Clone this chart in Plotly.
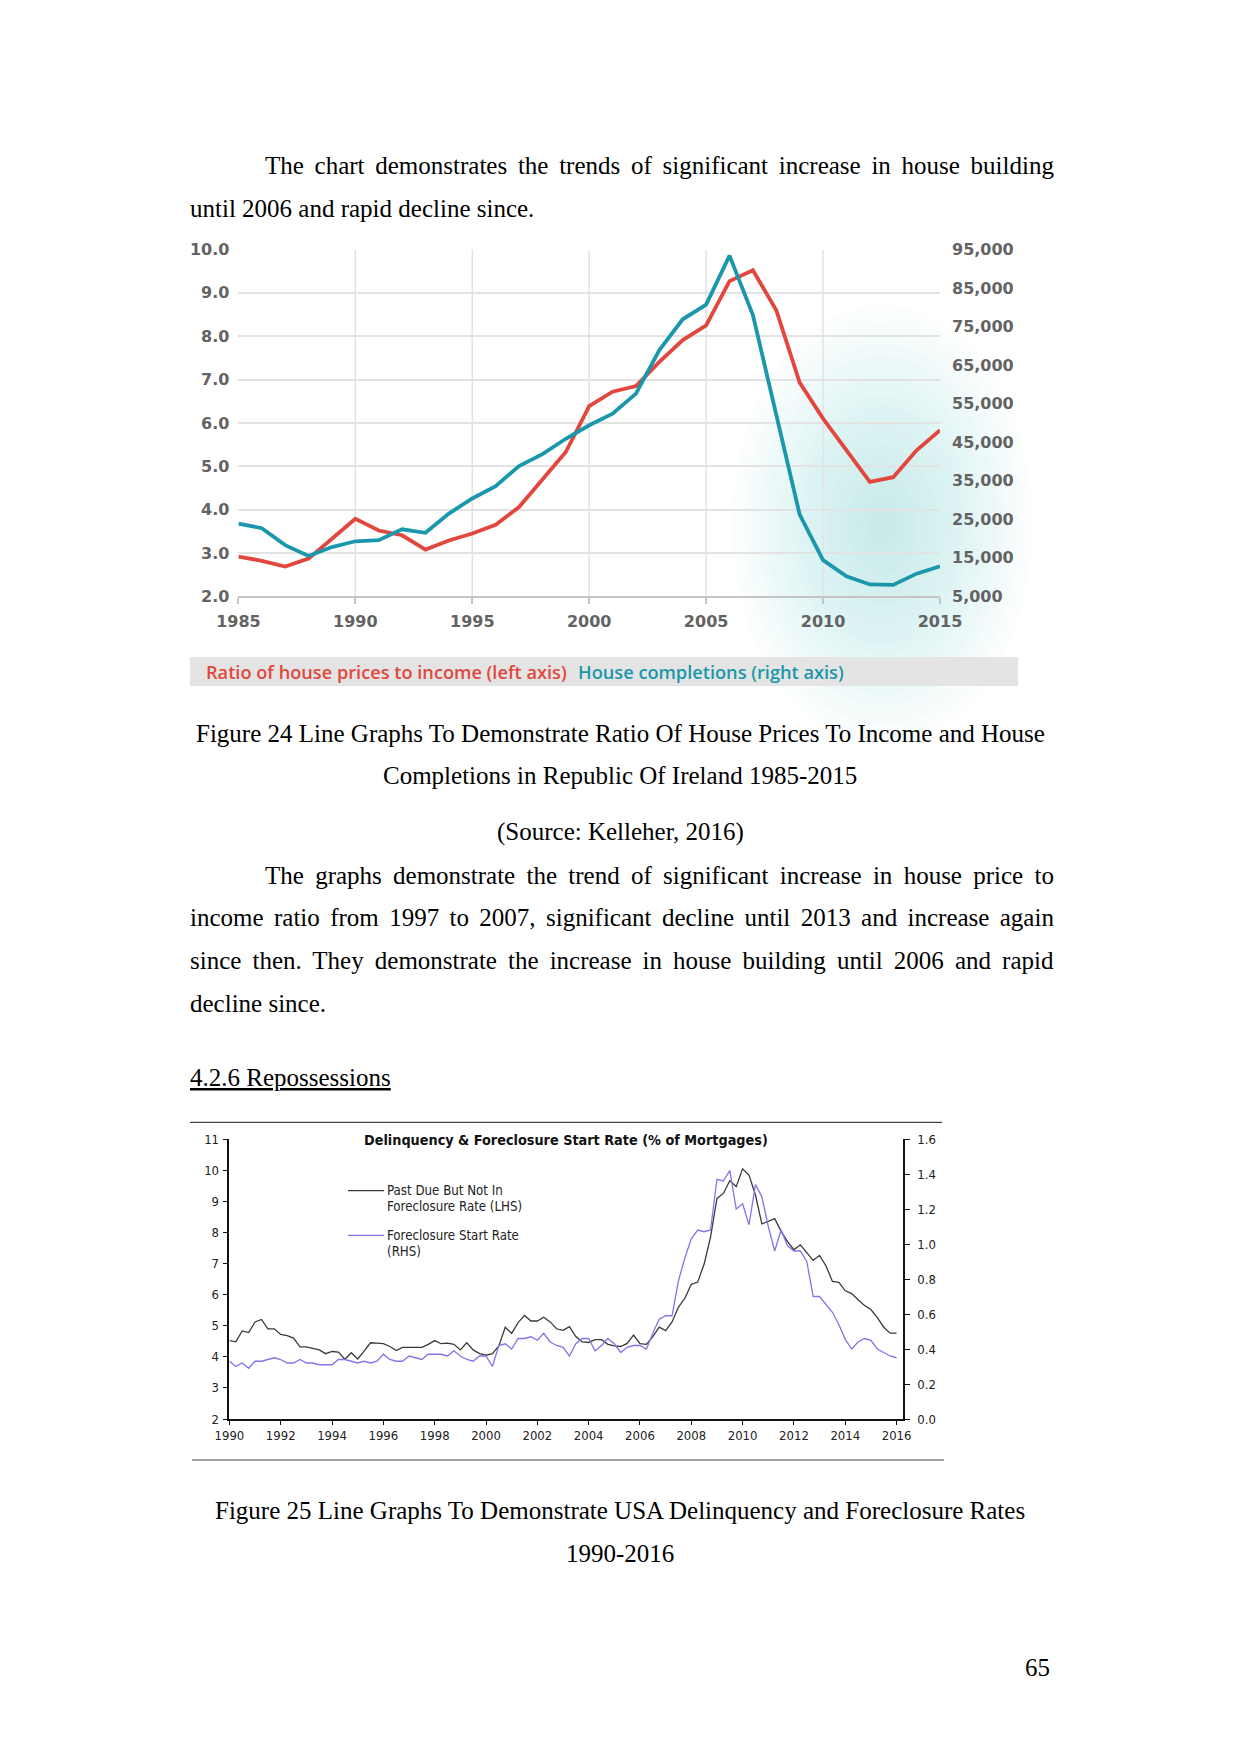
import plotly.graph_objects as go

W, H = 1241, 1754
OFF = 8  # the page body margin that shifts the whole figure


def fx(x):
    return (x - OFF) / W


def fy(y):
    return 1 - (y - OFF) / H


# ---------------- Chart 1 data (Ireland) ----------------
years1 = list(range(1985, 2016))
ratio = [2.92, 2.82, 2.69, 2.87, 3.33, 3.79, 3.52, 3.41, 3.08, 3.29,
         3.45, 3.65, 4.06, 4.68, 5.33, 6.39, 6.72, 6.85, 7.41, 7.91,
         8.25, 9.27, 9.52, 8.60, 6.93, 6.10, 5.37, 4.64, 4.75, 5.37, 5.83]
completions = [23900, 22700, 18300, 15500, 17800, 19300, 19600, 22400, 21500, 26500,
               30400, 33600, 38800, 41900, 45900, 49400, 52400, 57600, 68900, 76900,
               80700, 93400, 78000, 52000, 26200, 14400, 10200, 8100, 8000, 10900, 12800]
x_ticks1 = [1985, 1990, 1995, 2000, 2005, 2010, 2015]
grid_years1 = [1990, 1995, 2000, 2005, 2010]
left_ticks1 = [2, 3, 4, 5, 6, 7, 8, 9, 10]
right_ticks1 = [5000, 15000, 25000, 35000, 45000, 55000, 65000, 75000, 85000, 95000]

# ---------------- Chart 2 data (USA, quarterly from 1990Q1) ----------------
q_start = 1990
delinquency = [
    4.52, 4.48, 4.83, 4.78,   # 1990
    5.12, 5.20, 4.90, 4.90,   # 1991
    4.72, 4.68, 4.60, 4.32,   # 1992
    4.32, 4.28, 4.22, 4.10,   # 1993
    4.17, 4.15, 3.92, 4.13,   # 1994
    3.93, 4.18, 4.45, 4.44,   # 1995
    4.42, 4.33, 4.20, 4.30,   # 1996
    4.30, 4.28, 4.30, 4.40,   # 1997
    4.52, 4.42, 4.44, 4.40,   # 1998
    4.22, 4.45, 4.22, 4.10,   # 1999
    4.05, 4.10, 4.35, 4.95,   # 2000
    4.75, 5.10, 5.33, 5.15,   # 2001
    5.15, 5.27, 5.12, 4.90,   # 2002
    4.85, 4.97, 4.65, 4.48,   # 2003
    4.46, 4.55, 4.55, 4.40,   # 2004
    4.35, 4.33, 4.43, 4.70,   # 2005
    4.42, 4.40, 4.65, 4.95,   # 2006
    4.84, 5.12, 5.60, 5.88,   # 2007
    6.33, 6.40, 6.98, 7.85,   # 2008
    9.09, 9.25, 9.66, 9.47,   # 2009
    10.04, 9.84, 9.20, 8.27,  # 2010
    8.35, 8.44, 8.03, 7.70,   # 2011
    7.44, 7.60, 7.35, 7.10,   # 2012
    7.26, 6.92, 6.42, 6.39,   # 2013
    6.12, 6.03, 5.83, 5.65,   # 2014
    5.52, 5.26, 4.95, 4.76,   # 2015
    4.76,                     # 2016
]
foreclosure = [
    0.33, 0.30, 0.32, 0.29,   # 1990
    0.33, 0.33, 0.34, 0.35,   # 1991
    0.34, 0.32, 0.32, 0.34,   # 1992
    0.32, 0.32, 0.31, 0.31,   # 1993
    0.31, 0.34, 0.34, 0.33,   # 1994
    0.32, 0.33, 0.32, 0.33,   # 1995
    0.37, 0.34, 0.33, 0.33,   # 1996
    0.36, 0.35, 0.34, 0.37,   # 1997
    0.37, 0.37, 0.36, 0.39,   # 1998
    0.36, 0.34, 0.33, 0.36,   # 1999
    0.36, 0.30, 0.42, 0.43,   # 2000
    0.40, 0.46, 0.46, 0.47,   # 2001
    0.45, 0.49, 0.44, 0.42,   # 2002
    0.41, 0.36, 0.43, 0.46,   # 2003
    0.46, 0.39, 0.42, 0.46,   # 2004
    0.43, 0.38, 0.41, 0.42,   # 2005
    0.42, 0.40, 0.49, 0.57,   # 2006
    0.59, 0.59, 0.79, 0.92,   # 2007
    1.03, 1.08, 1.07, 1.08,   # 2008
    1.37, 1.36, 1.42, 1.20,   # 2009
    1.23, 1.11, 1.34, 1.27,   # 2010
    1.10, 0.96, 1.08, 0.99,   # 2011
    0.96, 0.96, 0.90, 0.70,   # 2012
    0.70, 0.655, 0.61, 0.54,  # 2013
    0.455, 0.40, 0.44, 0.46,  # 2014
    0.45, 0.40, 0.38, 0.36,   # 2015
    0.35,                     # 2016
]
quarters = [q_start + i / 4 for i in range(len(delinquency))]
x_ticks2 = list(range(1990, 2017, 2))
left_ticks2 = list(range(2, 12))
right_ticks2 = [0.0, 0.2, 0.4, 0.6, 0.8, 1.0, 1.2, 1.4, 1.6]

# ---------------- Styles ----------------
RED = "#e2473d"
TEAL = "#1a97ab"
DARK = "#3a3a3a"
VIOLET = "#7e76ea"
SERIF = "Liberation Serif, Times New Roman, serif"
ROUND = "DejaVu Sans, sans-serif"
NARROW = "Liberation Sans Narrow, DejaVu Sans Condensed, Arial Narrow, sans-serif"
GREY_TXT = "#636363"

# Times metrics (per 1000 em) for justified body text
TIMES = {' ': 250, ',': 250, '.': 250, '-': 333, '(': 333, ')': 333,
         'A': 722, 'B': 667, 'C': 667, 'D': 722, 'E': 611, 'F': 556, 'G': 722,
         'H': 722, 'I': 333, 'J': 389, 'K': 722, 'L': 611, 'M': 889, 'N': 722,
         'O': 722, 'P': 556, 'Q': 722, 'R': 667, 'S': 556, 'T': 611, 'U': 722,
         'V': 722, 'W': 944, 'X': 722, 'Y': 722, 'Z': 611,
         'a': 444, 'b': 500, 'c': 444, 'd': 500, 'e': 444, 'f': 333, 'g': 500,
         'h': 500, 'i': 278, 'j': 278, 'k': 500, 'l': 278, 'm': 778, 'n': 500,
         'o': 500, 'p': 500, 'q': 500, 'r': 333, 's': 389, 't': 278, 'u': 500,
         'v': 500, 'w': 722, 'x': 500, 'y': 500, 'z': 444}
BODY = 25

annotations = []


def text(t, x, y, xanchor="left", size=BODY, family=SERIF, color="black", weight=None):
    f = dict(family=family, size=size, color=color)
    if weight:
        f["weight"] = weight
    annotations.append(dict(text=t, x=fx(x), y=fy(y), xref="paper", yref="paper",
                            xanchor=xanchor, yanchor="middle", showarrow=False,
                            font=f, align="left"))


def justified(line, x_left, x_right, y):
    natural = sum(TIMES.get(c, 500) for c in line) / 1000 * BODY
    n = line.count(" ")
    ws = (x_right - x_left - natural) / n if n else 0
    text('<span style="word-spacing:%.2fpx">%s</span>' % (ws, line), x_left, y)


LM, RM, IND = 188, 1052, 263
CENTER = (LM + RM) / 2

justified("The chart demonstrates the trends of significant increase in house building", IND, RM, 165.5)
text("until 2006 and rapid decline since.", LM, 208)
text("Figure 24 Line Graphs To Demonstrate Ratio Of House Prices To Income and House", CENTER, 733, "center")
text("Completions in Republic Of Ireland 1985-2015", CENTER, 775.5, "center")
text("(Source: Kelleher, 2016)", CENTER, 831.5, "center")
justified("The graphs demonstrate the trend of significant increase in house price to", IND, RM, 875)
justified("income ratio from 1997 to 2007, significant decline until 2013 and increase again", LM, RM, 917.6)
justified("since then. They demonstrate the increase in house building until 2006 and rapid", LM, RM, 961)
text("decline since.", LM, 1003.7)
text("<u>4.2.6 Repossessions</u>", LM, 1077.6)
text("Figure 25 Line Graphs To Demonstrate USA Delinquency and Foreclosure Rates", CENTER, 1510.6, "center")
text("1990-2016", CENTER, 1553, "center")
text("65", RM, 1667, "right")

# chart 1 legend bar text
text("Ratio of house prices to income (left axis)", 204, 671.5, size=18.2, family="Open Sans, sans-serif",
     color=RED, weight=600)
text("House completions (right axis)", 576, 671.5, size=18.2, family="Open Sans, sans-serif",
     color=TEAL, weight=600)

# chart 2 title and legend
LEG2 = 13.2
text("<b>Delinquency & Foreclosure Start Rate (% of Mortgages)</b>", 566, 1140, "center", size=14.3,
     family=NARROW, color="#111")
text("Past Due But Not In", 385, 1190.6, size=LEG2, family=NARROW, color="#222")
text("Foreclosure Rate (LHS)", 385, 1206.3, size=LEG2, family=NARROW, color="#222")
text("Foreclosure Start Rate", 385, 1235.4, size=LEG2, family=NARROW, color="#222")
text("(RHS)", 385, 1251, size=LEG2, family=NARROW, color="#222")

shapes = []
# soft glow behind the right part of chart 1
NG = 22
for i in range(NG):
    k = 1 - i / NG
    rx, ry = 150 * k, 220 * k
    cx, cy = 882, 525
    shapes.append(dict(type="circle", xref="paper", yref="paper",
                       x0=fx(cx - rx), x1=fx(cx + rx), y0=fy(cy + ry), y1=fy(cy - ry),
                       fillcolor="#96dbe7", opacity=0.032, line=dict(width=0), layer="below"))
# legend bar
shapes.append(dict(type="rect", xref="paper", yref="paper", x0=fx(190), x1=fx(1018),
                   y0=fy(686), y1=fy(657), fillcolor="#e4e4e4", line=dict(width=0), layer="below"))
# vertical gridlines chart 1
for yr in grid_years1:
    shapes.append(dict(type="line", xref="x", yref="y", x0=yr, x1=yr, y0=left_ticks1[0], y1=left_ticks1[-1],
                       line=dict(color="#e3e3e3", width=1.5), layer="below"))
# chart 2 horizontal rules
shapes.append(dict(type="line", xref="paper", yref="paper", x0=fx(190), x1=fx(942), y0=fy(1122.4), y1=fy(1122.4),
                   line=dict(color="#444", width=1.2)))
shapes.append(dict(type="line", xref="paper", yref="paper", x0=fx(192), x1=fx(944), y0=fy(1460), y1=fy(1460),
                   line=dict(color="#444", width=1.2)))
# chart 2 legend lines
shapes.append(dict(type="line", xref="paper", yref="paper", x0=fx(348), x1=fx(384), y0=fy(1190.6), y1=fy(1190.6),
                   line=dict(color=DARK, width=1.3)))
shapes.append(dict(type="line", xref="paper", yref="paper", x0=fx(348), x1=fx(384), y0=fy(1235.4), y1=fy(1235.4),
                   line=dict(color=VIOLET, width=1.3)))

fig = go.Figure()
fig.add_trace(go.Scatter(x=years1, y=ratio, mode="lines", line=dict(color=RED, width=3.8),
                         xaxis="x", yaxis="y", showlegend=False, hoverinfo="skip"))
fig.add_trace(go.Scatter(x=years1, y=completions, mode="lines", line=dict(color=TEAL, width=3.8),
                         xaxis="x", yaxis="y2", showlegend=False, hoverinfo="skip"))
fig.add_trace(go.Scatter(x=quarters, y=delinquency, mode="lines", line=dict(color=DARK, width=1.3),
                         xaxis="x2", yaxis="y3", showlegend=False, hoverinfo="skip"))
fig.add_trace(go.Scatter(x=quarters, y=foreclosure, mode="lines", line=dict(color=VIOLET, width=1.3),
                         xaxis="x2", yaxis="y4", showlegend=False, hoverinfo="skip"))

tf1 = dict(family=ROUND, size=16, color=GREY_TXT, weight="bold")
tf2 = dict(family=NARROW, size=13, color="#222")

fig.update_layout(
    width=W, height=H, margin=dict(l=0, r=0, t=0, b=0, pad=0, autoexpand=False),
    paper_bgcolor="white", plot_bgcolor="rgba(0,0,0,0)",
    showlegend=False,
    xaxis=dict(domain=[fx(238.4), fx(940)], range=[x_ticks1[0], x_ticks1[-1]], anchor="y",
               tickvals=x_ticks1, showgrid=False, zeroline=False, showline=True,
               linecolor="#c4c4c4", linewidth=1.5, ticks="outside", ticklen=6, tickcolor="#c4c4c4",
               tickwidth=1.5, tickfont=tf1, ticklabelstandoff=4, automargin=False),
    yaxis=dict(domain=[fy(596.4), fy(249.5)], range=[left_ticks1[0], left_ticks1[-1]], anchor="x",
               tickvals=left_ticks1, tickformat=".1f", showgrid=True, gridcolor="#e3e3e3", gridwidth=1.5,
               zeroline=False, showline=False, ticks="", tickfont=tf1, ticklabelstandoff=8, automargin=False),
    yaxis2=dict(overlaying="y", side="right", anchor="x", range=[right_ticks1[0], right_ticks1[-1]],
                tickvals=right_ticks1, tickformat=",", showgrid=False, zeroline=False, showline=False,
                ticks="", tickfont=tf1, ticklabelstandoff=11, automargin=False),
    xaxis2=dict(domain=[fx(229.4), fx(903)], range=[1990, 2016.25], anchor="y3",
                tickvals=x_ticks2, showgrid=False, zeroline=False, showline=True, linecolor="#111",
                linewidth=1.5, ticks="outside", ticklen=4, tickcolor="#111", tickwidth=1.2, tickfont=tf2,
                automargin=False),
    yaxis3=dict(domain=[fy(1419), fy(1139)], range=[2, 11], anchor="x2", tickvals=left_ticks2,
                showgrid=False, zeroline=False, showline=True, linecolor="#111", linewidth=1.5,
                ticks="outside", ticklen=5, tickcolor="#111", tickwidth=1.2, tickfont=tf2,
                ticklabelstandoff=1, automargin=False),
    yaxis4=dict(overlaying="y3", side="right", anchor="x2", range=[0, 1.6], tickvals=right_ticks2,
                tickformat=".1f", showgrid=False, zeroline=False, showline=True, linecolor="#111",
                linewidth=1.5, ticks="outside", ticklen=5, tickcolor="#111", tickwidth=1.2, tickfont=tf2,
                ticklabelstandoff=5, automargin=False),
    shapes=shapes,
    annotations=annotations,
)

fig.write_html("out.html")
